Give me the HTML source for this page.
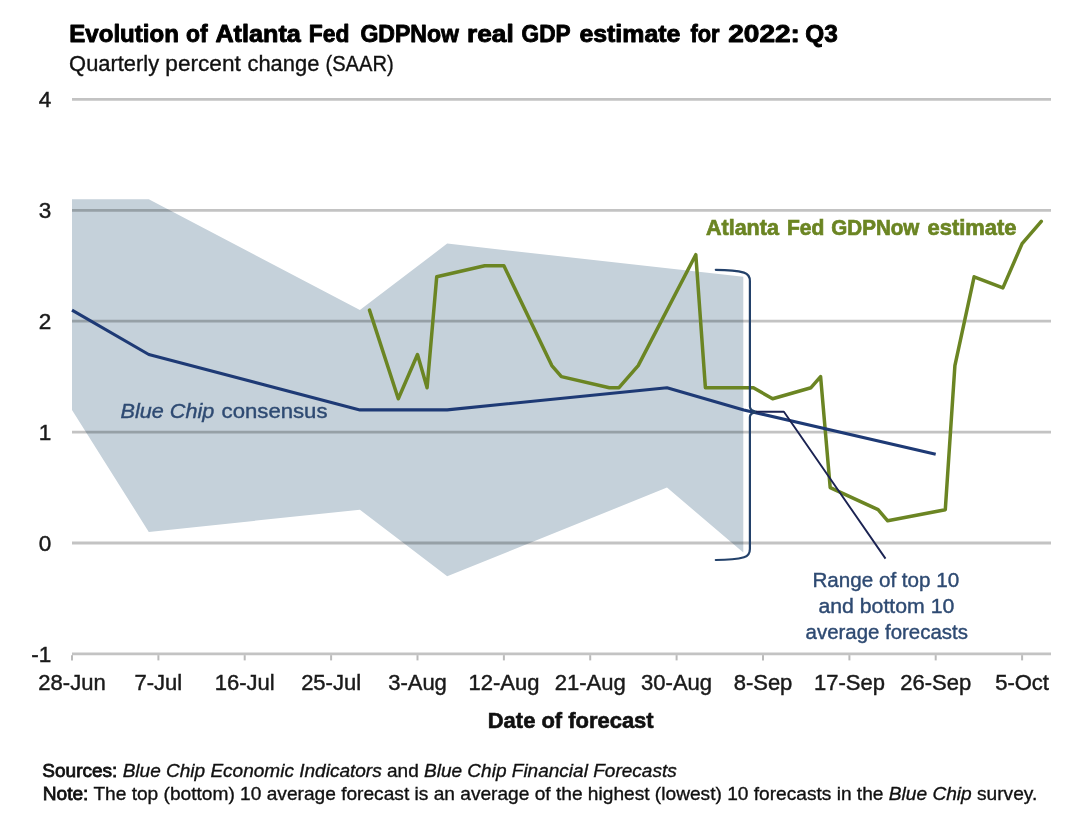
<!DOCTYPE html>
<html><head><meta charset="utf-8"><title>GDPNow</title>
<style>
html,body{margin:0;padding:0;background:#fff;}
body{width:1090px;height:829px;overflow:hidden;font-family:"Liberation Sans",sans-serif;}
svg{display:block;font-family:"Liberation Sans",sans-serif;}
</style></head><body>
<svg width="1090" height="829" viewBox="0 0 1090 829">
<rect width="1090" height="829" fill="#fff"/>
<g><text y="42.2" font-size="24" fill="#000" font-weight="bold" stroke="#000" stroke-width="0.9" stroke-linejoin="round"><tspan x="69.30" textLength="109.56" lengthAdjust="spacingAndGlyphs">Evolution</tspan> <tspan x="185.90" textLength="21.64" lengthAdjust="spacingAndGlyphs">of</tspan> <tspan x="215.40" textLength="85.41" lengthAdjust="spacingAndGlyphs">Atlanta</tspan> <tspan x="308.85" textLength="40.58" lengthAdjust="spacingAndGlyphs">Fed</tspan> <tspan x="360.40" textLength="98.58" lengthAdjust="spacingAndGlyphs">GDPNow</tspan> <tspan x="467.11" textLength="46.61" lengthAdjust="spacingAndGlyphs">real</tspan> <tspan x="521.60" textLength="48.61" lengthAdjust="spacingAndGlyphs">GDP</tspan> <tspan x="579.40" textLength="100.96" lengthAdjust="spacingAndGlyphs">estimate</tspan> <tspan x="690.50" textLength="29.11" lengthAdjust="spacingAndGlyphs">for</tspan> <tspan x="728.20" textLength="71.73" lengthAdjust="spacingAndGlyphs">2022:</tspan> <tspan x="805.30" textLength="32.45" lengthAdjust="spacingAndGlyphs">Q3</tspan></text></g>
<g><text y="71.0" font-size="22" fill="#111" stroke="#111" stroke-width="0.35"><tspan x="69.11" textLength="89.99" lengthAdjust="spacingAndGlyphs">Quarterly</tspan> <tspan x="165.37" textLength="75.44" lengthAdjust="spacingAndGlyphs">percent</tspan> <tspan x="247.50" textLength="71.83" lengthAdjust="spacingAndGlyphs">change</tspan> <tspan x="325.48" textLength="68.23" lengthAdjust="spacingAndGlyphs">(SAAR)</tspan></text></g>
<polygon points="72.0,199.2 148.8,199.2 359.9,310.1 447.2,243.6 743.3,276.8 743.3,552.4 667.0,487.6 447.2,576.3 359.9,509.7 148.8,531.9 72.0,409.9" fill="#c5d1da"/>
<g stroke="#000" stroke-opacity="0.235" stroke-width="2.8"><line x1="72" x2="1051" y1="99.4" y2="99.4"/><line x1="72" x2="1051" y1="210.3" y2="210.3"/><line x1="72" x2="1051" y1="321.2" y2="321.2"/><line x1="72" x2="1051" y1="432.1" y2="432.1"/><line x1="72" x2="1051" y1="543.0" y2="543.0"/><line x1="72" x2="1051" y1="653.9" y2="653.9"/></g>
<g stroke="#000" stroke-opacity="0.27" stroke-width="2"><line x1="72.0" x2="72.0" y1="655.3" y2="660.4"/><line x1="158.4" x2="158.4" y1="655.3" y2="660.4"/><line x1="244.7" x2="244.7" y1="655.3" y2="660.4"/><line x1="331.1" x2="331.1" y1="655.3" y2="660.4"/><line x1="417.5" x2="417.5" y1="655.3" y2="660.4"/><line x1="503.9" x2="503.9" y1="655.3" y2="660.4"/><line x1="590.2" x2="590.2" y1="655.3" y2="660.4"/><line x1="676.6" x2="676.6" y1="655.3" y2="660.4"/><line x1="763.0" x2="763.0" y1="655.3" y2="660.4"/><line x1="849.4" x2="849.4" y1="655.3" y2="660.4"/><line x1="935.7" x2="935.7" y1="655.3" y2="660.4"/><line x1="1022.1" x2="1022.1" y1="655.3" y2="660.4"/></g>
<polyline points="369.5,310.1 398.3,398.8 417.5,354.5 427.1,387.7 436.7,276.8 484.7,265.8 503.9,265.8 551.8,365.6 561.4,376.6 609.4,387.7 619.0,387.7 638.2,365.6 695.8,254.7 705.4,387.7 753.4,387.7 772.6,398.8 811.0,387.7 820.6,376.6 830.2,487.6 878.1,509.7 887.7,520.8 945.3,509.7 954.9,365.6 974.1,276.8 1002.9,287.9 1022.1,243.6 1041.3,221.4" fill="none" stroke="#6b8523" stroke-width="3.5" stroke-linejoin="round" stroke-linecap="round"/>
<polyline points="72.0,310.1 148.8,354.5 359.9,409.9 447.2,409.9 667.0,387.7 743.8,409.9 935.7,454.3" fill="none" stroke="#1e3a75" stroke-width="3.1" stroke-linejoin="round" stroke-linecap="butt"/>
<path d="M715.8,269.8 C728,269.8 738,270.8 744,272.6 Q749.9,274.5 749.9,281 V406.5 Q749.9,410.6 756.5,411.8 Q749.9,413 749.9,417 V549 Q749.9,555.5 744,557.3 C738,559 728,560 715.8,560" fill="none" stroke="#23416a" stroke-width="2.2" stroke-linecap="round"/>
<path d="M756,411.8 H783.9 L885.5,558.6" fill="none" stroke="#1b2352" stroke-width="1.9" stroke-linejoin="round"/>
<g font-size="22" fill="#1a1a1a" stroke="#1a1a1a" stroke-width="0.45"><text x="51.3" y="107.30000000000001" text-anchor="end" font-size="22.5">4</text><text x="51.3" y="218.20000000000002" text-anchor="end" font-size="22.5">3</text><text x="51.3" y="329.09999999999997" text-anchor="end" font-size="22.5">2</text><text x="51.3" y="440.0" text-anchor="end" font-size="22.5">1</text><text x="51.3" y="550.9" text-anchor="end" font-size="22.5">0</text><text x="51.3" y="661.8" text-anchor="end" font-size="22.5">-1</text><text x="72.0" y="690.3" text-anchor="middle">28-Jun</text><text x="158.4" y="690.3" text-anchor="middle">7-Jul</text><text x="244.7" y="690.3" text-anchor="middle">16-Jul</text><text x="331.1" y="690.3" text-anchor="middle">25-Jul</text><text x="417.5" y="690.3" text-anchor="middle">3-Aug</text><text x="503.9" y="690.3" text-anchor="middle">12-Aug</text><text x="590.2" y="690.3" text-anchor="middle">21-Aug</text><text x="676.6" y="690.3" text-anchor="middle">30-Aug</text><text x="763.0" y="690.3" text-anchor="middle">8-Sep</text><text x="849.4" y="690.3" text-anchor="middle">17-Sep</text><text x="935.7" y="690.3" text-anchor="middle">26-Sep</text><text x="1022.1" y="690.3" text-anchor="middle">5-Oct</text></g>
<text x="487.78" y="727.6" font-size="21.5" fill="#111" textLength="165.88" lengthAdjust="spacingAndGlyphs" font-weight="bold" stroke="#111" stroke-width="0.6">Date of forecast</text>
<text y="235.3" font-size="21.5" fill="#6b8523" font-weight="bold" stroke="#6b8523" stroke-width="0.7"><tspan x="706.00" textLength="72.86" lengthAdjust="spacingAndGlyphs">Atlanta</tspan> <tspan x="787.02" textLength="37.39" lengthAdjust="spacingAndGlyphs">Fed</tspan> <tspan x="831.30" textLength="88.04" lengthAdjust="spacingAndGlyphs">GDPNow</tspan> <tspan x="927.60" textLength="88.96" lengthAdjust="spacingAndGlyphs">estimate</tspan></text>
<text x="120.60" y="417.8" font-size="21" fill="#2e4a72" textLength="93.60" lengthAdjust="spacingAndGlyphs" font-style="italic" stroke="#2e4a72" stroke-width="0.4">Blue Chip</text>
<text x="221.60" y="417.8" font-size="21" fill="#2e4a72" textLength="105.93" lengthAdjust="spacingAndGlyphs" stroke="#2e4a72" stroke-width="0.4">consensus</text>
<text x="812.49" y="586.6" font-size="20.5" fill="#2e4a72" textLength="146.71" lengthAdjust="spacingAndGlyphs" stroke="#2e4a72" stroke-width="0.4">Range of top 10</text>
<text x="818.40" y="613.2" font-size="20.5" fill="#2e4a72" textLength="135.92" lengthAdjust="spacingAndGlyphs" stroke="#2e4a72" stroke-width="0.4">and bottom 10</text>
<text x="805.60" y="638.9" font-size="20.5" fill="#2e4a72" textLength="162.25" lengthAdjust="spacingAndGlyphs" stroke="#2e4a72" stroke-width="0.4">average forecasts</text>
<g font-size="19" fill="#111" stroke="#111" stroke-width="0.35">
<text x="42.3" y="776.8" textLength="634.4" lengthAdjust="spacingAndGlyphs"><tspan stroke="#111" stroke-width="0.8">Sources:</tspan> <tspan font-style="italic">Blue Chip Economic Indicators</tspan> and <tspan font-style="italic">Blue Chip Financial Forecasts</tspan></text>
<text x="42.7" y="800.3" textLength="994.6" lengthAdjust="spacingAndGlyphs"><tspan stroke="#111" stroke-width="0.8">Note:</tspan> The top (bottom) 10 average forecast is an average of the highest (lowest) 10 forecasts in the <tspan font-style="italic">Blue Chip</tspan> survey.</text>
</g>
</svg>
</body></html>
